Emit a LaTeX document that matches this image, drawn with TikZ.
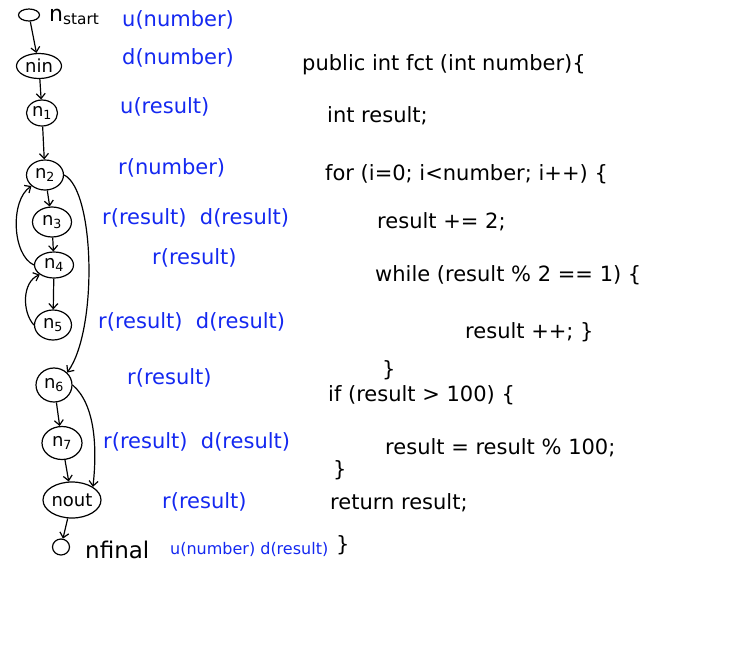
\documentclass[tikz,border=0pt]{standalone}
\usepackage{fontspec}
\setmainfont{DejaVu Sans}
\usetikzlibrary{arrows.meta, shapes.geometric}
\definecolor{penblue}{RGB}{20,40,240}

\begin{document}
\begin{tikzpicture}[x=1pt, y=-1pt,
  vert/.style={ellipse, draw, line width=1.2pt, inner sep=0pt,
               font=\fontsize{18}{19}\selectfont},
  defuse/.style={anchor=west, text=penblue, inner sep=0pt,
                 font=\fontsize{21}{22}\selectfont},
  src/.style={anchor=west, inner sep=0pt, font=\fontsize{21}{22}\selectfont},
  arrow/.style={-{Straight Barb[length=5pt, width=9pt]}, line width=1.2pt}
]
\useasboundingbox (0,0) rectangle (747,648);

% control flow graph
\node[vert, minimum width=21pt, minimum height=12pt] (start) at (29,15) {};
\node[anchor=west, inner sep=0pt, font=\fontsize{22}{24}\selectfont] (starttxt) at (49,17)
  {n\textsubscript{start}};
\node[vert, minimum width=45pt, minimum height=25pt] (nin) at (39,66) {nin};
\node[vert, minimum width=31pt, minimum height=26pt] (n1) at (42,113) {n\textsubscript{1}};
\node[vert, minimum width=37pt, minimum height=30pt] (n2) at (45,175) {n\textsubscript{2}};
\node[vert, minimum width=39pt, minimum height=30pt] (n3) at (52,222) {n\textsubscript{3}};
\node[vert, minimum width=39pt, minimum height=26pt] (n4) at (54,265) {n\textsubscript{4}};
\node[vert, minimum width=37pt, minimum height=30pt] (n5) at (53,325) {n\textsubscript{5}};
\node[vert, minimum width=36pt, minimum height=34pt] (n6) at (54,385) {n\textsubscript{6}};
\node[vert, minimum width=40pt, minimum height=33pt] (n7) at (62,443) {n\textsubscript{7}};
\node[vert, minimum width=58pt, minimum height=36pt] (nout) at (72,500) {nout};
\node[vert, minimum width=17pt, minimum height=16pt] (final) at (61,547) {};
\node[src, font=\fontsize{23}{24}\selectfont] (finaltxt) at (85,550) {nfinal};

\draw[arrow] (start) -- (nin);
\draw[arrow] (nin) -- (n1);
\draw[arrow] (n1) -- (n2);
\draw[arrow] (n2) -- (n3);
\draw[arrow] (n3) -- (n4);
\draw[arrow] (n4) -- (n5);
\draw[arrow] (n6) -- (n7);
\draw[arrow] (n7) -- (nout);
\draw[arrow] (nout) -- (final);
\draw[arrow] (n4.west) .. controls (12,255) and (10,200) .. (n2.south west);
\draw[arrow] (n5.west) .. controls (22,312) and (22,282) .. (n4.south west);
\draw[arrow] (n2.east) .. controls (95,190) and (98,330) .. (n6.north east);
\draw[arrow] (n6.east) .. controls (96,405) and (97,450) .. (nout.north east);

% def / use labels
\node[defuse] (l0) at (122,20) {u(number)};
\node[defuse] (l1) at (122,58) {d(number)};
\node[defuse] (l2) at (120,107) {u(result)};
\node[defuse] (l3) at (118,168) {r(number)};
\node[defuse] (l4) at (102,218) {r(result)\ \ d(result)};
\node[defuse] (l5) at (152,258) {r(result)};
\node[defuse] (l6) at (98,322) {r(result)\ \ d(result)};
\node[defuse] (l7) at (127,378) {r(result)};
\node[defuse] (l8) at (103,442) {r(result)\ \ d(result)};
\node[defuse] (l9) at (162,502) {r(result)};
\node[defuse, font=\fontsize{16}{18}\selectfont] (l10) at (170,549) {u(number) d(result)};

% source code
\node[src] (c0) at (302,65) {public int fct (int number)\{};
\node[src] (c1) at (327,116) {int result;};
\node[src] (c2) at (325,174) {for (i=0; i<number; i++) \{};
\node[src] (c3) at (377,222) {result += 2;};
\node[src] (c4) at (375,275) {while (result \% 2 == 1) \{};
\node[src] (c5) at (465,332) {result ++; \}};
\node[src] (c6) at (382,370) {\}};
\node[src] (c7) at (328,395) {if (result > 100) \{};
\node[src] (c8) at (385,448) {result = result \% 100;};
\node[src] (c9) at (333,470) {\}};
\node[src] (c10) at (330,503) {return result;};
\node[src] (c11) at (336,545) {\}};

\end{tikzpicture}
\end{document}
